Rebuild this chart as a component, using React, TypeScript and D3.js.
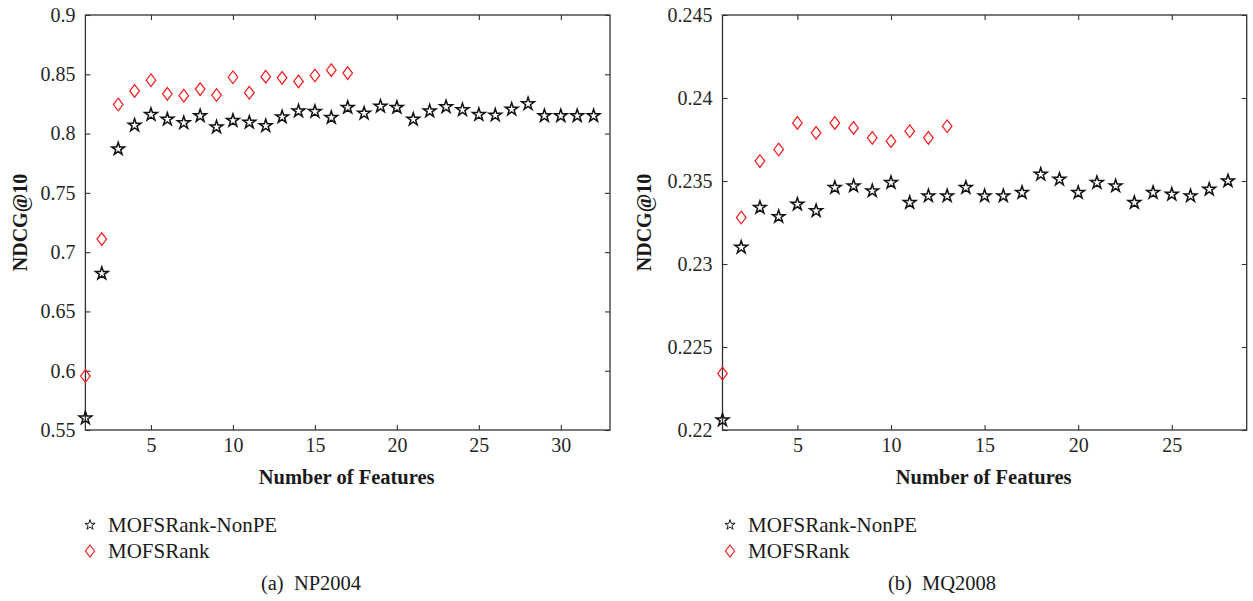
import React, { useEffect, useRef } from 'react';
import * as d3 from 'd3';

// NP2004 (left panel)
const npNonPE = [0.560, 0.682, 0.787, 0.807, 0.816, 0.812, 0.809, 0.815, 0.8055, 0.811, 0.8095, 0.8065, 0.814, 0.819, 0.8185, 0.8135,
  0.822, 0.817, 0.823, 0.822, 0.812, 0.819, 0.8225, 0.820, 0.816, 0.8155, 0.8205, 0.825, 0.815, 0.815, 0.815, 0.815];
const npMOFS = [0.5955, 0.711, 0.8245, 0.836, 0.845, 0.8335, 0.832, 0.8375, 0.8325, 0.8475, 0.8345, 0.848, 0.847, 0.844, 0.849, 0.8535, 0.851];
const npYTicks = [0.55, 0.6, 0.65, 0.7, 0.75, 0.8, 0.85, 0.9];
const npXTicks = [5, 10, 15, 20, 25, 30];

// MQ2008 (right panel)
const mqNonPE = [0.2206, 0.2310, 0.2334, 0.23285, 0.2336, 0.2332, 0.2346, 0.2347, 0.2344, 0.2349, 0.2337, 0.2341, 0.2341, 0.2346,
  0.2341, 0.2341, 0.2343, 0.2354, 0.2351, 0.2343, 0.2349, 0.2347, 0.2337, 0.2343, 0.2342, 0.2341, 0.2345, 0.2350];
const mqMOFS = [0.2234, 0.2328, 0.2362, 0.2369, 0.2385, 0.2379, 0.2385, 0.2382, 0.2376, 0.2374, 0.2380, 0.2376, 0.2383];
const mqYTicks = [0.22, 0.225, 0.23, 0.235, 0.24, 0.245];
const mqXTicks = [5, 10, 15, 20, 25];

const seriesNames = ['MOFSRank-NonPE', 'MOFSRank'];
const yTitle = 'NDCG@10';
const xTitle = 'Number of Features';

const FONT = "'Liberation Serif', 'Times New Roman', Times, serif";
const AXIS = '#333';

// matlab-like diamond: taller than wide
const tallDiamond = {
  draw(ctx, size) {
    const hh = Math.sqrt(size) / 2;
    const hw = hh * 0.76;
    ctx.moveTo(0, -hh);
    ctx.lineTo(hw, 0);
    ctx.lineTo(0, hh);
    ctx.lineTo(-hw, 0);
    ctx.closePath();
  }
};

const starPath = d3.symbol(d3.symbolStar, 50)();
const diamondPath = d3.symbol(tallDiamond, 160)();

function Panel({ left, right, xMax, yDomain, yTicks, xTicks, stars, diamonds, labelX, caption, legendX }) {
  const ref = useRef(null);

  useEffect(() => {
    const g = d3.select(ref.current);
    g.selectAll('*').remove();
    const top = 15, bottom = 430;
    const x = d3.scaleLinear().domain([1, xMax]).range([left, right]);
    const y = d3.scaleLinear().domain(yDomain).range([bottom, top]);
    const fmt = d => String(+d.toFixed(4));

    const style = sel => {
      sel.select('.domain').remove();
      sel.attr('font-family', null).attr('font-size', null);
      sel.selectAll('line').attr('stroke', AXIS).attr('stroke-width', 1.1);
      sel.selectAll('text').style('font-family', FONT).style('font-size', '20px').attr('fill', '#262626');
    };

    g.append('g').attr('transform', `translate(${left},0)`)
      .call(d3.axisLeft(y).tickValues(yTicks).tickSize(-5).tickPadding(10).tickFormat(fmt)).call(style);
    g.append('g').attr('transform', `translate(${right},0)`)
      .call(d3.axisRight(y).tickValues(yTicks).tickSize(-5).tickFormat(() => '')).call(style);
    g.append('g').attr('transform', `translate(0,${bottom})`)
      .call(d3.axisBottom(x).tickValues(xTicks).tickSize(-5).tickPadding(8).tickFormat(d3.format('d'))).call(style);
    g.append('g').attr('transform', `translate(0,${top})`)
      .call(d3.axisTop(x).tickValues(xTicks).tickSize(-5).tickFormat(() => '')).call(style);

    g.append('rect')
      .attr('x', left).attr('y', top)
      .attr('width', right - left).attr('height', bottom - top)
      .attr('fill', 'none').attr('stroke', AXIS).attr('stroke-width', 1.3);

    g.selectAll('path.star')
      .data(stars)
      .enter()
      .append('path')
      .attr('class', 'star')
      .attr('d', starPath)
      .attr('transform', (d, i) => `translate(${x(i + 1)},${y(d)})`)
      .attr('fill', 'none').attr('stroke', '#111').attr('stroke-width', 1.5);

    g.selectAll('path.dia')
      .data(diamonds)
      .enter()
      .append('path')
      .attr('class', 'dia')
      .attr('d', diamondPath)
      .attr('transform', (d, i) => `translate(${x(i + 1)},${y(d)})`)
      .attr('fill', 'none').attr('stroke', '#f21b1b').attr('stroke-width', 1.2);

    // titles
    g.append('text')
      .attr('transform', `translate(${labelX},${(top + bottom) / 2}) rotate(-90)`)
      .attr('text-anchor', 'middle')
      .style('font-family', FONT).style('font-weight', 'bold').style('font-size', '20px').attr('fill', '#1a1a1a')
      .text(yTitle);
    g.append('text')
      .attr('x', (left + right) / 2 - 1).attr('y', 484)
      .attr('text-anchor', 'middle')
      .style('font-family', FONT).style('font-weight', 'bold').style('font-size', '20.5px').attr('fill', '#1a1a1a')
      .text(xTitle);

    // legend
    const leg = g.append('g');
    const rows = [{ p: starPath, c: '#111', w: 1.2 }, { p: diamondPath, c: '#f21b1b', w: 1.2 }];
    rows.forEach((r, i) => {
      const yy = 525 + i * 26;
      leg.append('path').attr('d', r.p)
        .attr('transform', `translate(${legendX},${yy}) scale(${i === 0 ? 0.8 : 0.95})`)
        .attr('fill', 'none').attr('stroke', r.c).attr('stroke-width', r.w);
      leg.append('text').attr('x', legendX + 18).attr('y', yy + 7)
        .style('font-family', FONT).style('font-size', '21px').attr('fill', '#1a1a1a')
        .text(seriesNames[i]);
    });

    g.append('text')
      .attr('x', caption.x).attr('y', 590)
      .attr('text-anchor', 'middle')
      .style('font-family', FONT).style('font-size', '20.5px').attr('fill', '#1a1a1a')
      .text(caption.text);
  }, []);

  return <g ref={ref} />;
}

export default function App() {
  return (
    <svg width={1253} height={601} style={{ position: 'absolute', left: 0, top: 0, background: '#fff', fontFamily: FONT }}>
      <Panel left={85.4} right={610} xMax={33} yDomain={[0.55, 0.9]} yTicks={npYTicks} xTicks={npXTicks}
        stars={npNonPE} diamonds={npMOFS} labelX={27} legendX={90}
        caption={{ x: 311, text: '(a)\u2002NP2004' }} />
      <Panel left={722.5} right={1246.7} xMax={29} yDomain={[0.22, 0.245]} yTicks={mqYTicks} xTicks={mqXTicks}
        stars={mqNonPE} diamonds={mqMOFS} labelX={651} legendX={730}
        caption={{ x: 942, text: '(b)\u2002MQ2008' }} />
    </svg>
  );
}
